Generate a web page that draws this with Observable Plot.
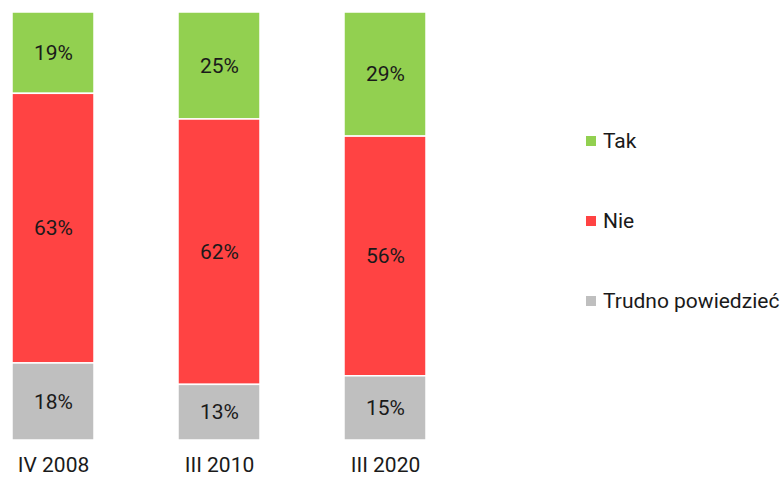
<!DOCTYPE html>
<html>
<head>
<meta charset="utf-8">
<script src="https://cdn.jsdelivr.net/npm/d3@7"></script>
<script src="https://cdn.jsdelivr.net/npm/@observablehq/plot@0.6"></script>
<style>
  html, body { margin: 0; padding: 0; background: #fff; }
  #wrap { position: relative; width: 784px; height: 477px; overflow: hidden; font-family: Roboto, "Noto Sans", sans-serif; }
  #legend { position: absolute; left: 586px; top: 0; }
  .item { position: absolute; left: 0; display: flex; align-items: center; white-space: nowrap; font-size: 21px; color: #1a1a1a; transform: translateY(-50%); }
  .sw { width: 10px; height: 10px; margin-right: 7px; flex: none; }
</style>
</head>
<body>
<div id="wrap"><div id="chart"></div><div id="legend"></div></div>
<script>
const categories = ["IV 2008", "III 2010", "III 2020"];
const seriesNames = ["Tak", "Nie", "Trudno powiedzieć"];
const tak = [19, 25, 29];
const nie = [63, 62, 56];
const trudno = [18, 13, 15];
const colors = ["#92d050", "#ff4343", "#bfbfbf"];

const seriesValues = [tak, nie, trudno];
const data = [];
categories.forEach((c, i) => {
  seriesNames.forEach((s, j) => data.push({category: c, series: s, value: seriesValues[j][i]}));
});
const stackOrder = ["Trudno powiedzieć", "Nie", "Tak"];

const chart = Plot.plot({
  width: 784,
  height: 477,
  marginTop: 12,
  marginBottom: 37,
  marginLeft: 12,
  marginRight: 357,
  style: {fontFamily: "Roboto, 'Noto Sans', sans-serif", fontSize: "21px", color: "#1a1a1a"},
  x: {domain: categories, paddingInner: 0.506, paddingOuter: 0, label: null, tickSize: 0, tickPadding: 17},
  y: {domain: [0, 100], axis: null},
  color: {domain: seriesNames, range: colors},
  marks: [
    Plot.barY(data, Plot.stackY({x: "category", y: "value", z: "series", order: stackOrder, fill: "series", stroke: "white", strokeWidth: 1.5})),
    Plot.text(data, Plot.stackY({x: "category", y: "value", z: "series", order: stackOrder, text: d => d.value + "%", fill: "#1a1a1a", fontSize: 21}))
  ]
});
document.getElementById("chart").appendChild(chart);

const legend = document.getElementById("legend");
const rowY = [141, 221, 301];
seriesNames.forEach((s, i) => {
  const it = document.createElement("div");
  it.className = "item";
  it.style.top = rowY[i] + "px";
  const sw = document.createElement("span");
  sw.className = "sw";
  sw.style.background = colors[i];
  const t = document.createElement("span");
  t.textContent = s;
  it.appendChild(sw); it.appendChild(t);
  legend.appendChild(it);
});
</script>
</body>
</html>
